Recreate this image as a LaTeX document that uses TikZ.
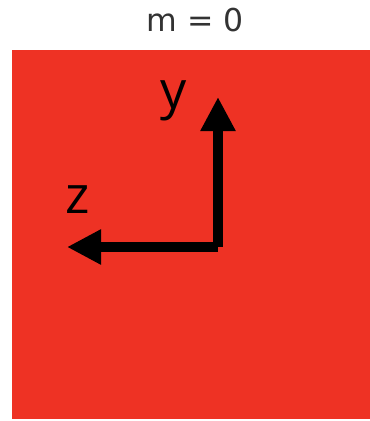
\documentclass[tikz,border=0pt]{standalone}
\usepackage{fontspec}
\setmainfont{DejaVu Sans}
\newfontfamily\labelfont{Open Sans}
\usetikzlibrary{arrows.meta}
\definecolor{panelred}{HTML}{EE3224}
\definecolor{titlegray}{HTML}{333333}
\tikzset{
  axisarrow/.style={line width=9.5pt, line cap=butt, -{Triangle[width=33pt,length=34pt]}},
  axislabel/.style={font=\labelfont\fontsize{52}{52}\selectfont, anchor=base, inner sep=0pt}
}
\begin{document}
\begin{tikzpicture}[x=1pt,y=-1pt]
  \useasboundingbox (0,0) rectangle (370,421);

  % title
  \node[font=\fontsize{31.5}{32}\selectfont, text=titlegray, anchor=base] (title) at (195,31) {m = 0};

  % red panel
  \fill[panelred] (12,50) rectangle (370,419);

  % axes
  \coordinate (O) at (218,247);
  \coordinate (ytip) at (218,97);
  \coordinate (ztip) at (67,247);
  \draw[axisarrow] (O) -- (ytip);
  \draw[axisarrow] (O) -- (ztip);

  % labels
  \node[axislabel] (ylab) at (174,108) {y};
  \node[axislabel] (zlab) at (78,213) {z};

\end{tikzpicture}
\end{document}
